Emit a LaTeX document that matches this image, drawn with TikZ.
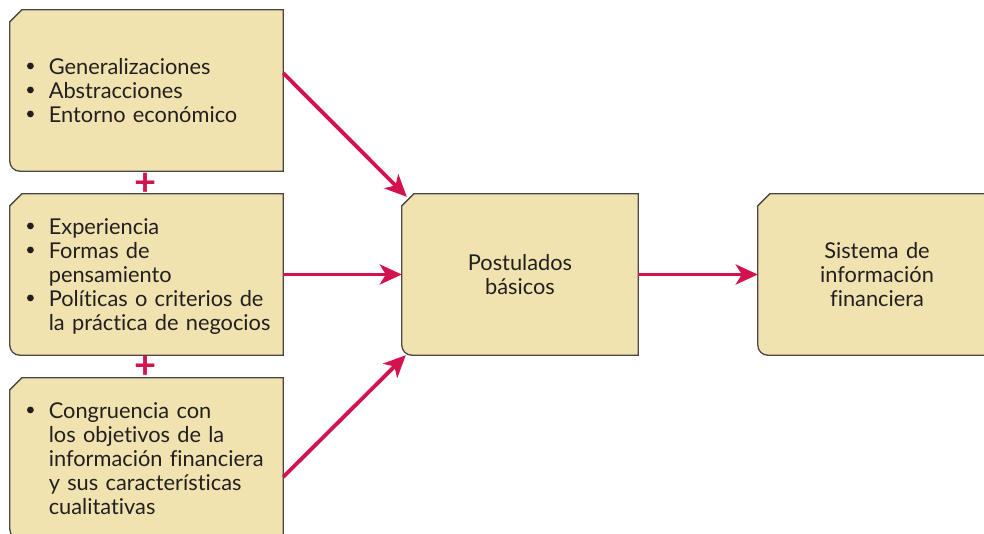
\documentclass[tikz,border=0pt]{standalone}
\usepackage{fontspec}
\setmainfont{Lato}[Ligatures={NoCommon}]
\usetikzlibrary{calc,backgrounds,arrows.meta}
\definecolor{boxfill}{HTML}{F1E3B0}
\definecolor{boxline}{HTML}{4A4646}
\definecolor{crimson}{HTML}{D4124E}
\definecolor{ink}{HTML}{231F20}
\newcommand{\itm}{\raisebox{0.45ex}{\tikz\fill[ink] (0,0) circle (3.4pt);}}
\newcommand{\lowered}[1]{\raisebox{-3pt}[\height][\depth]{#1}}
\begin{document}
\begin{tikzpicture}[x=1pt,y=-1pt,
  boxnode/.style={inner sep=0pt, text=ink, font=\fontsize{21.8}{24}\selectfont},
  listbox/.style={boxnode, text width=239pt, inner xsep=17pt, minimum height=161pt, align=left},
  centerbox/.style={boxnode, text width=210pt, minimum width=236pt, minimum height=161pt, align=center},
  outline/.style={fill=boxfill, draw=boxline, line width=1.3pt, line join=miter},
  arr/.style={draw=crimson, line width=3.8pt, -{Stealth[length=22pt,width=20pt,inset=6pt]}},
  plusnode/.style={text=crimson, font=\fontsize{38}{38}\selectfont\bfseries, inner sep=0pt}
]
\useasboundingbox (0,0) rectangle (984,533);
\clip (0,0) rectangle (984,533);

\node[listbox] (g) at (146.5,90.5) {\lowered{\begin{tabular}{@{}l@{\hspace{15pt}}l@{}}
\itm & Generalizaciones\\
\itm & Abstracciones\\
\itm & Entorno económico
\end{tabular}}};

\node[listbox] (e) at (146.5,274.5) {\lowered{\begin{tabular}{@{}l@{\hspace{15pt}}l@{}}
\itm & Experiencia\\
\itm & Formas de\\
 & pensamiento\\
\itm & Políticas o criterios de\\
 & la práctica de negocios
\end{tabular}}};

\node[listbox] (c) at (146.5,458.5) {\lowered{\begin{tabular}{@{}l@{\hspace{15pt}}l@{}}
\itm & Congruencia con\\
 & los objetivos de la\\
 & información financiera\\
 & y sus características\\
 & cualitativas
\end{tabular}}};

\node[centerbox] (p) at (520,274.5) {Postulados\\básicos};
\node[centerbox, minimum width=238pt] (s) at (877,274.5) {Sistema de\\información\\financiera};

\node[plusnode] (plus1) at (146,184) {+};
\node[plusnode] (plus2) at (146,367) {+};

\begin{scope}[on background layer]
\foreach \n in {g,e,c,p,s}{
  \draw[outline] ($(\n.north west)+(0,12)$) -- ($(\n.north west)+(12,0)$) -- (\n.north east) -- (\n.south east) [rounded corners=10pt] -- (\n.south west) [sharp corners] -- cycle;
}
\end{scope}

\coordinate (g1) at ($(g.east)+(0,-17.5)$);
\coordinate (c1) at ($(c.east)+(0,18.5)$);
\coordinate (p1) at ($(p.north west)+(5,3)$);
\coordinate (p3) at ($(p.south west)+(4,0)$);
\draw[arr] (g1) -- (p1);
\draw[arr] (e.east) -- (p.west);
\draw[arr] (c1) -- (p3);
\draw[arr] (p.east) -- (s.west);
\end{tikzpicture}
\end{document}
